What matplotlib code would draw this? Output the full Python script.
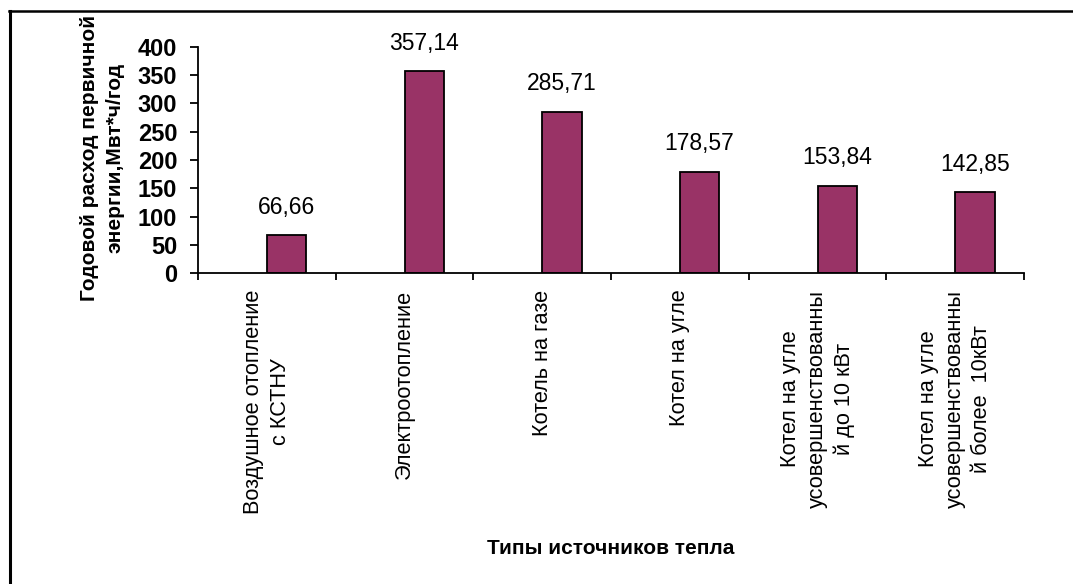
import matplotlib
matplotlib.use("Agg")
import matplotlib.pyplot as plt
from matplotlib.lines import Line2D
import numpy as np

plt.rcParams["font.family"] = ["Liberation Sans", "DejaVu Sans"]

# heat source types and their annual primary energy use
categories = [
    "Воздушное отопление\nс КСТНУ",
    "Электроотопление",
    "Котель на газе",
    "Котел на угле",
    "Котел на угле\nусовершенствованны\nй до 10 кВт",
    "Котел на угле\nусовершенствованны\nй более  10кВт",
]
values = [66.66, 357.14, 285.71, 178.57, 153.84, 142.85]
value_labels = ["66,66", "357,14", "285,71", "178,57", "153,84", "142,85"]
y_ticks = [0, 50, 100, 150, 200, 250, 300, 350, 400]

W, H = 1073, 584
fig = plt.figure(figsize=(W / 100, H / 100), dpi=100)
ax = fig.add_axes([198 / W, 1 - 273 / H, (1024 - 198) / W, (273 - 47) / H])

# Excel-style clustered layout: the bar sits in the right half of each slot
n = len(categories)
slot = np.arange(n)
bar_w = 1 / 3.5
bars = ax.bar(slot + 0.5, values, width=bar_w, align="edge",
              color="#993366", edgecolor="black", linewidth=1.3)

for b, lab in zip(bars, value_labels):
    ax.annotate(lab, (b.get_x() + b.get_width() / 2, b.get_height()),
                xytext=(0, 12), textcoords="offset points",
                ha="center", va="bottom", fontsize=16.5)

ax.set_xlim(0, n)
ax.set_ylim(0, 400)
ax.set_yticks(y_ticks)
ax.tick_params(axis="y", length=6, width=1.3, pad=9, labelsize=17)
for t in ax.get_yticklabels():
    t.set_fontweight("bold")

# boundary ticks on the x axis, category names in the middle of each slot
ax.set_xticks(np.arange(n + 1))
ax.set_xticklabels([])
ax.tick_params(axis="x", which="major", length=5, width=1.3, direction="out")
ax.set_xticks(slot + 0.5, minor=True)
ax.set_xticklabels(categories, minor=True, rotation=90, fontsize=15.7,
                   va="top", ha="center", linespacing=1.35)
ax.tick_params(axis="x", which="minor", length=0, pad=12)

for s in ["top", "right"]:
    ax.spines[s].set_visible(False)
for s in ["left", "bottom"]:
    ax.spines[s].set_linewidth(1.3)

fig.text(102 / W, 1 - 158 / H,
         "Годовой расход первичной\nэнергии,Мвт*ч/год",
         rotation=90, ha="center", va="center", fontsize=15,
         fontweight="bold", linespacing=1.45)
fig.text(611 / W, 1 - 548 / H, "Типы источников тепла",
         ha="center", va="center", fontsize=15, fontweight="bold")

# outer chart frame (left and top edges)
fig.add_artist(Line2D([10 / W, 10 / W], [0, 1 - 11 / H],
                      transform=fig.transFigure, color="black", lw=2.2))
fig.add_artist(Line2D([9 / W, 1], [1 - 11 / H, 1 - 11 / H],
                      transform=fig.transFigure, color="black", lw=1.8))

fig.savefig("out.png", dpi=100)
